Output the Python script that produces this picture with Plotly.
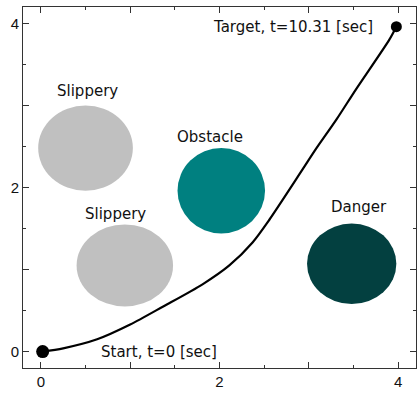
import plotly.graph_objects as go

# Planned trajectory from start to target
path_x = [0.02, 0.25, 0.63, 1.00, 1.37, 1.81, 2.11, 2.37, 2.56, 2.93, 3.08, 3.31, 3.53, 3.90, 3.98]
path_y = [0.00, 0.04, 0.15, 0.33, 0.55, 0.82, 1.05, 1.33, 1.61, 2.22, 2.47, 2.83, 3.20, 3.80, 3.96]

# Regions on the map
region_names = ["Slippery", "Slippery", "Obstacle", "Danger"]
region_cx = [0.50, 0.94, 2.02, 3.48]
region_cy = [2.48, 1.05, 1.96, 1.07]
region_rx = [0.53, 0.54, 0.49, 0.50]
region_ry = [0.52, 0.50, 0.52, 0.49]
region_colors = ["#c0c0c0", "#c0c0c0", "#008080", "#034040"]
label_x = [0.52, 0.83, 1.89, 3.56]
label_y = [3.18, 1.68, 2.62, 1.76]

start_text = "Start, t=0 [sec]"
target_text = "Target, t=10.31 [sec]"

label_font = "DejaVu Sans, sans-serif"
tick_font = "Liberation Sans, Arial, sans-serif"

fig = go.Figure()

fig.add_trace(go.Scatter(
    x=path_x, y=path_y, mode="lines",
    line=dict(color="black", width=2.2, shape="spline", smoothing=0.8),
    hoverinfo="skip", showlegend=False,
))
fig.add_trace(go.Scatter(
    x=[path_x[0], path_x[-1]], y=[path_y[0], path_y[-1]], mode="markers",
    marker=dict(color="#000000", size=[13, 11], opacity=1, line=dict(width=0)),
    hoverinfo="skip", showlegend=False,
))

for cx, cy, rx, ry, col in zip(region_cx, region_cy, region_rx, region_ry, region_colors):
    fig.add_shape(type="circle", xref="x", yref="y",
                  x0=cx - rx, x1=cx + rx, y0=cy - ry, y1=cy + ry,
                  fillcolor=col, line=dict(width=0), layer="below")

for name, lx, ly in zip(region_names, label_x, label_y):
    fig.add_annotation(x=lx, y=ly, text=name, showarrow=False,
                       font=dict(family=label_font, size=15, color="#111"))

fig.add_annotation(x=0.65, y=path_y[0], text=start_text, showarrow=False,
                   xanchor="left", font=dict(family=label_font, size=15, color="#111"))
fig.add_annotation(x=3.74, y=path_y[-1], text=target_text, showarrow=False,
                   xanchor="right", font=dict(family=label_font, size=15, color="#111"))

axis_common = dict(
    showgrid=False, zeroline=False,
    showline=True, linecolor="#333", linewidth=1, mirror="ticks",
    ticks="inside", ticklen=6, tickcolor="#333", tickwidth=1,
    tickvals=[0, 1, 2, 3, 4], ticktext=["0", "", "2", "", "4"],
    minor=dict(dtick=0.5, ticks="inside", ticklen=3, tickcolor="#333", showgrid=False),
    tickfont=dict(family=tick_font, size=15, color="#111"),
    range=[-0.2, 4.2], fixedrange=True,
)

fig.update_xaxes(**axis_common)
fig.update_yaxes(**axis_common)

fig.update_layout(
    width=417, height=395,
    margin=dict(l=23, r=1, t=7, b=27),
    paper_bgcolor="white", plot_bgcolor="white",
    showlegend=False,
)

fig.write_html("out.html", config={"displayModeBar": False})
